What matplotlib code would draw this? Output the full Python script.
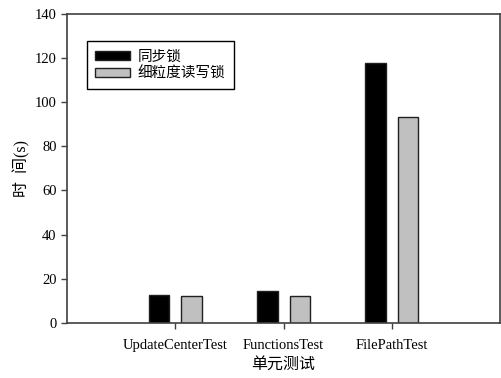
import matplotlib
matplotlib.use('Agg')
import matplotlib.pyplot as plt
import numpy as np

plt.rcParams['font.family'] = ['Liberation Serif', 'Noto Sans CJK SC']

# values
tests = ['UpdateCenterTest', 'FunctionsTest', 'FilePathTest']
sync_lock = [12.7, 14.6, 118.0]
rw_lock = [12.3, 12.0, 93.5]
series_names = ['同步锁', '细粒度读写锁']

fig = plt.figure(figsize=(5.01, 3.78), dpi=100)
ax = fig.add_axes([0.134, 0.146, 0.864, 0.817])

x = np.arange(1, len(tests) + 1)
w = 0.19
ax.bar(x - 0.15, sync_lock, w, color='black', edgecolor='#202020', linewidth=1, label=series_names[0])
ax.bar(x + 0.15, rw_lock, w, color='#c0c0c0', edgecolor='#202020', linewidth=1, label=series_names[1])

ax.set_xlim(0, 4)
ax.set_ylim(0, 140)
ax.set_yticks(range(0, 141, 20))
ax.set_xticks(x)
ax.set_xticklabels(tests)
ax.tick_params(direction='out', labelsize=10.5, length=4, width=1, colors='#404040',
               labelcolor='black')
ax.tick_params(axis='x', pad=8)
for s in ax.spines.values():
    s.set_linewidth(1.2)
    s.set_color('#404040')

ax.set_xlabel('单元测试', fontsize=11.5, labelpad=3)
ax.set_ylabel('时  间(s)', fontsize=11.5, labelpad=3)

ax.legend(loc='upper left', bbox_to_anchor=(0.028, 0.935), fontsize=10.5, frameon=True,
          fancybox=False, edgecolor='black', framealpha=1, handlelength=2.4,
          handleheight=0.6, labelspacing=0.22, borderpad=0.6, handletextpad=0.5)

fig.savefig('out.png', dpi=100)
